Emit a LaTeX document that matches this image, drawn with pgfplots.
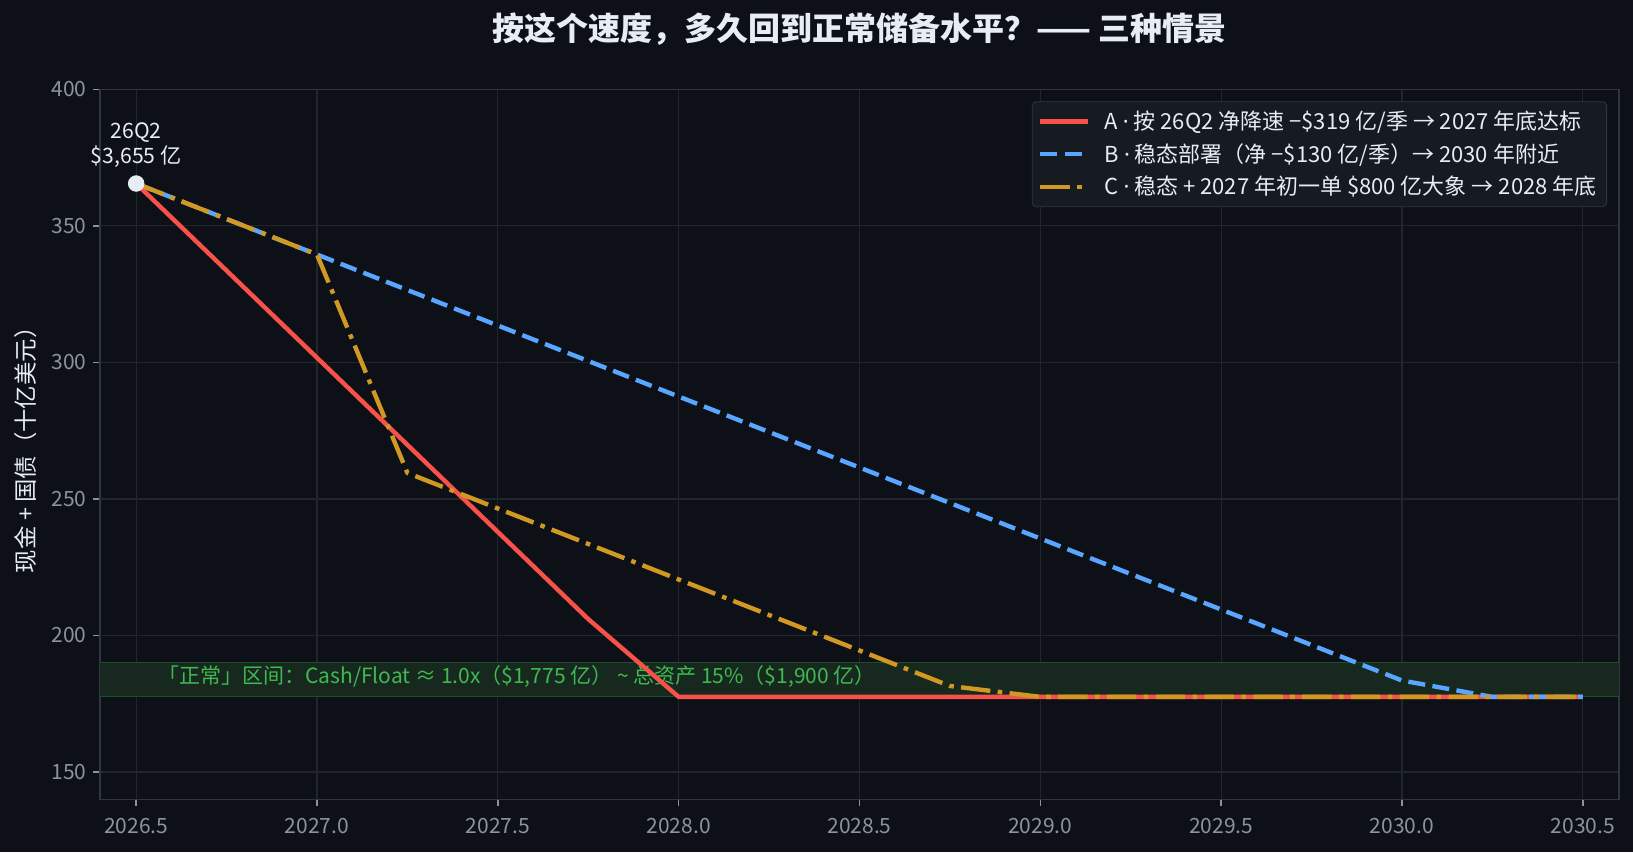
\documentclass[border=0pt]{standalone}
\usepackage{fontspec}
\setmainfont{Noto Sans CJK SC}
\newfontfamily\latinfont{Noto Sans}
\usepackage{pgfplots}
\pgfplotsset{compat=1.18}

\definecolor{bg}{HTML}{0D1117}
\definecolor{gridc}{HTML}{21262D}
\definecolor{spine}{HTML}{30363D}
\definecolor{tickc}{HTML}{8B949E}
\definecolor{txt}{HTML}{E6EDF3}
\definecolor{cA}{HTML}{F85149}
\definecolor{cB}{HTML}{58A6FF}
\definecolor{cC}{HTML}{D29922}
\definecolor{bandfill}{HTML}{17291F}
\definecolor{bandedge}{HTML}{1F4D2C}
\definecolor{bandtxt}{HTML}{3FB950}
\definecolor{legbg}{HTML}{161B22}
\newcommand{\md}{{\latinfont ·}}

\begin{document}
\begin{tikzpicture}
\fill[bg] (-50pt,-26.35pt) rectangle (766.5pt,399.65pt);
\begin{axis}[
  at={(0,0)}, anchor=south west,
  scale only axis, width=759.5pt, height=355pt,
  xmin=2026.4, xmax=2030.6, ymin=140, ymax=400,
  xtick={2026.5,2027,2027.5,2028,2028.5,2029,2029.5,2030,2030.5},
  ytick={150,200,250,300,350,400},
  scaled x ticks=false,
  clip mode=individual,
  x tick label style={/pgf/number format/fixed, /pgf/number format/fixed zerofill,
    /pgf/number format/precision=1, /pgf/number format/1000 sep={}, yshift=-2.5pt},
  /pgf/number format/assume math mode=true,
  axis background/.style={fill=bg},
  axis line style={spine, line width=0.8pt},
  grid=major, major grid style={gridc, line width=0.6pt},
  tick align=outside, tick pos=left, major tick length=3.3pt,
  every tick/.style={tickc, line width=0.8pt},
  tick label style={text=tickc, font=\fontsize{10.5}{12}\selectfont},
  legend style={at={(1,1)}, anchor=north east, xshift=-6pt, yshift=-6pt,
    fill=legbg, draw=spine, rounded corners=2pt, text=txt,
    font=\fontsize{11}{12}\selectfont, inner xsep=3pt, inner ysep=2.5pt, row sep=1.5pt,
    /tikz/every odd column/.append style={column sep=5pt}},
  legend cell align=left,
  legend image code/.code={\draw[mark repeat=2,mark phase=2] plot coordinates {(0pt,0pt) (12pt,0pt) (24pt,0pt)};},
]
% normal reserve band
\fill[bandfill] (axis cs:2026.4,177.5) rectangle (axis cs:2030.6,190);
\draw[bandedge, line width=0.6pt] (axis cs:2026.4,177.5) -- (axis cs:2030.6,177.5);
\draw[bandedge, line width=0.6pt] (axis cs:2026.4,190) -- (axis cs:2030.6,190);
\node[anchor=west, text=bandtxt, font=\fontsize{10.5}{12}\selectfont, inner sep=0pt]
  at (axis cs:2026.56,184.8) {「正常」区间：Cash/Float ≈ 1.0x（\$1,775 亿）\ \textasciitilde\ 总资产 15\%（\$1,900 亿）};

\addplot[cA, line width=2.2pt, line join=round] coordinates {
  (2026.5,365.5) (2026.75,333.6) (2027.0,301.7) (2027.25,269.8) (2027.5,237.9)
  (2027.75,206.0) (2028.0,177.5) (2028.5,177.5) (2029.0,177.5) (2029.5,177.5)
  (2030.0,177.5) (2030.5,177.5)
};
\addlegendentry{A \md{} 按 26Q2 净降速 −\$319 亿/季 → 2027 年底达标}

\addplot[cB, line width=2.2pt, line join=round, dash pattern=on 8.5pt off 3.7pt] coordinates {
  (2026.5,365.5) (2026.75,352.5) (2027.0,339.5) (2027.25,326.5) (2027.5,313.5)
  (2027.75,300.5) (2028.0,287.5) (2028.25,274.5) (2028.5,261.5) (2028.75,248.5)
  (2029.0,235.5) (2029.25,222.5) (2029.5,209.5) (2029.75,196.5) (2030.0,183.5)
  (2030.25,177.5) (2030.5,177.5)
};
\addlegendentry{B \md{} 稳态部署（净 −\$130 亿/季）→ 2030 年附近}

\addplot[cC, line width=2.2pt, line join=round, dash pattern=on 14.7pt off 3.7pt on 2.3pt off 3.7pt] coordinates {
  (2026.5,365.5) (2026.75,352.5) (2027.0,339.5) (2027.25,259.5) (2027.5,246.5)
  (2027.75,233.5) (2028.0,220.5) (2028.25,207.5) (2028.5,194.5) (2028.75,181.5)
  (2029.0,177.5) (2029.5,177.5) (2030.0,177.5) (2030.5,177.5)
};
\addlegendentry{C \md{} 稳态 + 2027 年初一单 \$800 亿大象 → 2028 年底}

\addplot[only marks, mark=*, mark size=3.9pt, color=txt, forget plot] coordinates {(2026.5,365.5)};
\node[anchor=south, align=center, text=txt, font=\fontsize{10.6}{12.5}\selectfont, inner sep=0pt, yshift=8pt]
  at (axis cs:2026.5,365.5) {26Q2\\\$3,655 亿};
\end{axis}
\node[text=txt, font=\fontsize{16}{19}\bfseries\selectfont] at (379.75pt,385.15pt)
  {按这个速度，多久回到正常储备水平？—— 三种情景};
\node[rotate=90, text=txt, font=\fontsize{11.7}{14}\selectfont] at (-37pt,177.5pt)
  {现金 + 国债（十亿美元）};
\pgfresetboundingbox
\path[use as bounding box] (-50pt,-26.35pt) rectangle (766.5pt,399.65pt);
\end{tikzpicture}
\end{document}
